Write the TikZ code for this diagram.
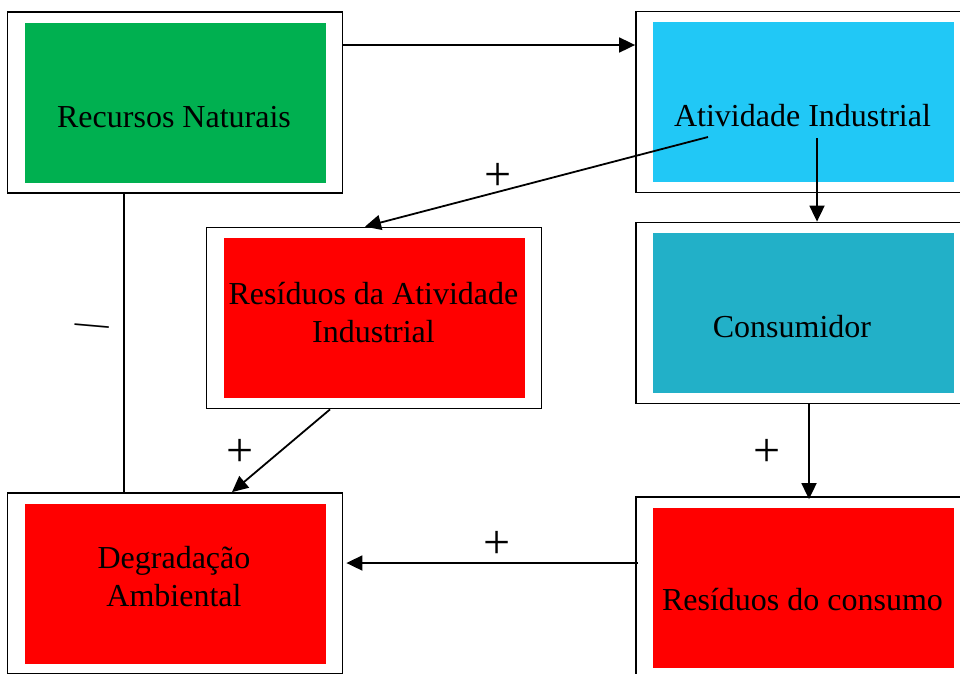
\documentclass[tikz,border=0pt]{standalone}
\usepackage{fontspec}
\setmainfont{Liberation Serif}
\usetikzlibrary{arrows.meta}

\definecolor{verdeRec}{RGB}{0,176,80}
\definecolor{azulAtiv}{RGB}{33,200,246}
\definecolor{azulCons}{RGB}{34,176,200}
\definecolor{vermelho}{RGB}{255,0,0}

\tikzset{every picture/.style={line width=1.8pt}}
\tikzset{
	moldura/.style={draw, minimum width=335pt, minimum height=181pt, inner sep=0pt},
	miolo/.style={fill=#1, draw=none, minimum width=301pt, minimum height=160pt, inner sep=0pt},
	rotulo/.style={font=\fontsize{32}{38}\selectfont, align=center, anchor=base, inner sep=0pt},
	sinal/.style={font=\fontsize{48}{48}\selectfont, inner sep=0pt},
	seta/.style={-{Triangle[length=16pt,width=15pt]}}}

\begin{document}
\begin{tikzpicture}[x=1pt,y=1pt,yscale=-1,xscale=1]
	\clip (0,0) rectangle (960,673);

	%Shape: Rectangle [id:recursos]
	\node [moldura] (recursos) at (175,102.5) {};
	\node [miolo=verdeRec] (recursosFundo) at (recursos.center) {};
	%Shape: Rectangle [id:atividade]
	\node [moldura] (atividade) at (803.5,102) {};
	\node [miolo=azulAtiv] (atividadeFundo) at (atividade.center) {};
	%Shape: Rectangle [id:residuosInd]
	\node [moldura] (residuosInd) at (374,318) {};
	\node [miolo=vermelho] (residuosIndFundo) at (residuosInd.center) {};
	%Shape: Rectangle [id:consumidor]
	\node [moldura] (consumidor) at (803.5,313) {};
	\node [miolo=azulCons] (consumidorFundo) at (consumidor.center) {};
	%Shape: Rectangle [id:residuosCons]
	\node [moldura] (residuosCons) at (803.5,587.5) {};
	\node [miolo=vermelho] (residuosConsFundo) at (residuosCons.center) {};
	%Shape: Rectangle [id:degradacao]
	\node [moldura] (degradacao) at (175,583.5) {};
	\node [miolo=vermelho] (degradacaoFundo) at (degradacao.center) {};

	% Text Node
	\node [rotulo] (tRecursos) at (174,127) {Recursos Naturais};
	% Text Node
	\node [rotulo] (tAtividade) at (802.5,126) {Atividade Industrial};
	% Text Node
	\node [rotulo] (tResiduosInd) at (373.5,342) {Resíduos da Atividade\\Industrial};
	% Text Node
	\node [rotulo] (tConsumidor) at (792,337) {Consumidor};
	% Text Node
	\node [rotulo] (tResiduosCons) at (802.5,610) {Resíduos do consumo};
	% Text Node
	\node [rotulo] (tDegradacao) at (174,606) {Degradação\\Ambiental};

	%Straight Lines
	\draw [seta] ([yshift=-57.5pt]recursos.east) -- ([yshift=-57pt]atividade.west);
	\draw [seta] ([xshift=-95.5pt,yshift=35pt]atividade.center) -- ([xshift=-9pt]residuosInd.north);
	\draw [seta] ([xshift=13.5pt,yshift=36pt]atividade.center) -- ([xshift=13.5pt]consumidor.north);
	\draw [seta] ([xshift=5.5pt]consumidor.south) -- ([xshift=5.5pt,yshift=3pt]residuosCons.north);
	\draw [seta] ([xshift=3pt,yshift=-24.5pt]residuosCons.west) -- ([xshift=3pt,yshift=-20.5pt]degradacao.east);
	\draw [seta] ([xshift=-44pt]residuosInd.south) -- ([xshift=57pt]degradacao.north);
	\draw ([xshift=-51pt]recursos.south) -- ([xshift=-51pt]degradacao.north);

	% Text Node
	\node [sinal] (mais1) at (498.5,177) {+};
	\node [sinal] (mais2) at (240,453) {+};
	\node [sinal] (mais3) at (767,453) {+};
	\node [sinal] (mais4) at (497.5,545) {+};
	\node [sinal, font=\fontsize{34}{34}\selectfont, rotate=-5] (menos) at (92,329.5) {—};

\end{tikzpicture}
\end{document}
